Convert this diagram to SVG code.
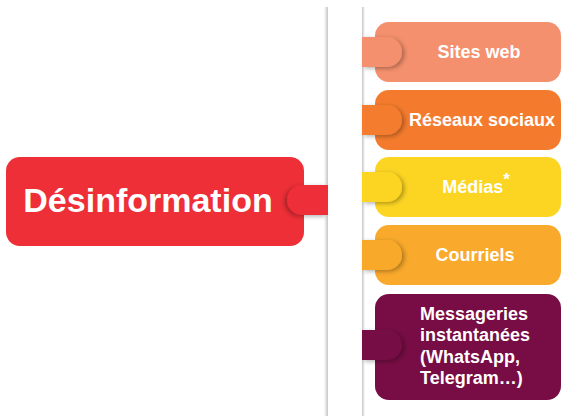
<svg xmlns="http://www.w3.org/2000/svg" width="561" height="416" viewBox="0 0 561 416">
<defs>
<linearGradient id="shL" x1="0" x2="1" y1="0" y2="0"><stop offset="0" stop-color="#ffffff"/><stop offset="1" stop-color="#c4c4c4"/></linearGradient>
<linearGradient id="shR" x1="0" x2="1" y1="0" y2="0"><stop offset="0" stop-color="#c4c4c4"/><stop offset="1" stop-color="#ffffff"/></linearGradient>
<filter id="tabR" x="-30%" y="-40%" width="160%" height="180%"><feDropShadow dx="2.5" dy="1.5" stdDeviation="2" flood-color="#000" flood-opacity="0.3"/></filter>
<filter id="tabL" x="-30%" y="-40%" width="160%" height="180%"><feDropShadow dx="-2.5" dy="1.5" stdDeviation="2" flood-color="#000" flood-opacity="0.3"/></filter>
</defs>
<style>
.t{font-family:"Liberation Sans",Arial,sans-serif;font-weight:bold;fill:#ffffff}
.s{font-size:18px;text-anchor:middle}
.m{font-size:18px}
</style>
<rect width="561" height="416" fill="#ffffff"/>
<g id="spine">
<rect x="324" y="7" width="4" height="409" fill="url(#shL)"/>
<rect x="362" y="7" width="3" height="409" fill="url(#shR)"/>
</g>
<g id="desinformation">
<rect x="6" y="157" width="298" height="89" rx="14" fill="#ee2f37"/>
<text class="t" x="148" y="212" font-size="34" text-anchor="middle">Désinformation</text>
</g>
<g id="sites-web">
<rect x="375" y="22" width="186" height="60" rx="14" fill="#f4906d"/>
<path d="M362,37 H387 A15,15 0 0 1 387,67 H362 Z" fill="#f4906d" filter="url(#tabR)"/>
<text class="t s" x="479" y="58">Sites web</text>
</g>
<g id="reseaux-sociaux">
<rect x="375" y="90" width="186" height="60" rx="14" fill="#f47b2d"/>
<path d="M362,105 H387 A15,15 0 0 1 387,135 H362 Z" fill="#f47b2d" filter="url(#tabR)"/>
<text class="t s" x="482" y="126">Réseaux sociaux</text>
</g>
<g id="medias">
<rect x="375" y="157" width="186" height="60" rx="14" fill="#fcd523"/>
<path d="M362,172 H387 A15,15 0 0 1 387,202 H362 Z" fill="#fcd523" filter="url(#tabR)"/>
<text class="t s" x="476" y="193">Médias<tspan font-size="17" dy="-8">*</tspan></text>
</g>
<g id="courriels">
<rect x="375" y="225" width="186" height="60" rx="14" fill="#f9a92b"/>
<path d="M362,240 H387 A15,15 0 0 1 387,270 H362 Z" fill="#f9a92b" filter="url(#tabR)"/>
<text class="t s" x="475" y="261">Courriels</text>
</g>
<g id="messageries">
<rect x="375" y="294" width="186" height="106" rx="14" fill="#770d44"/>
<path d="M362,330 H387 A15,15 0 0 1 387,360 H362 Z" fill="#770d44" filter="url(#tabR)"/>
<text class="t m" x="420" y="320">Messageries</text>
<text class="t m" x="420" y="341">instantanées</text>
<text class="t m" x="420" y="363">(WhatsApp,</text>
<text class="t m" x="420" y="384">Telegram…)</text>
</g>
<g id="connectors">
<path d="M302,185 H328 V215 H302 A15,15 0 0 1 302,185 Z" fill="#ee2f37" filter="url(#tabL)"/>
</g>
</svg>
